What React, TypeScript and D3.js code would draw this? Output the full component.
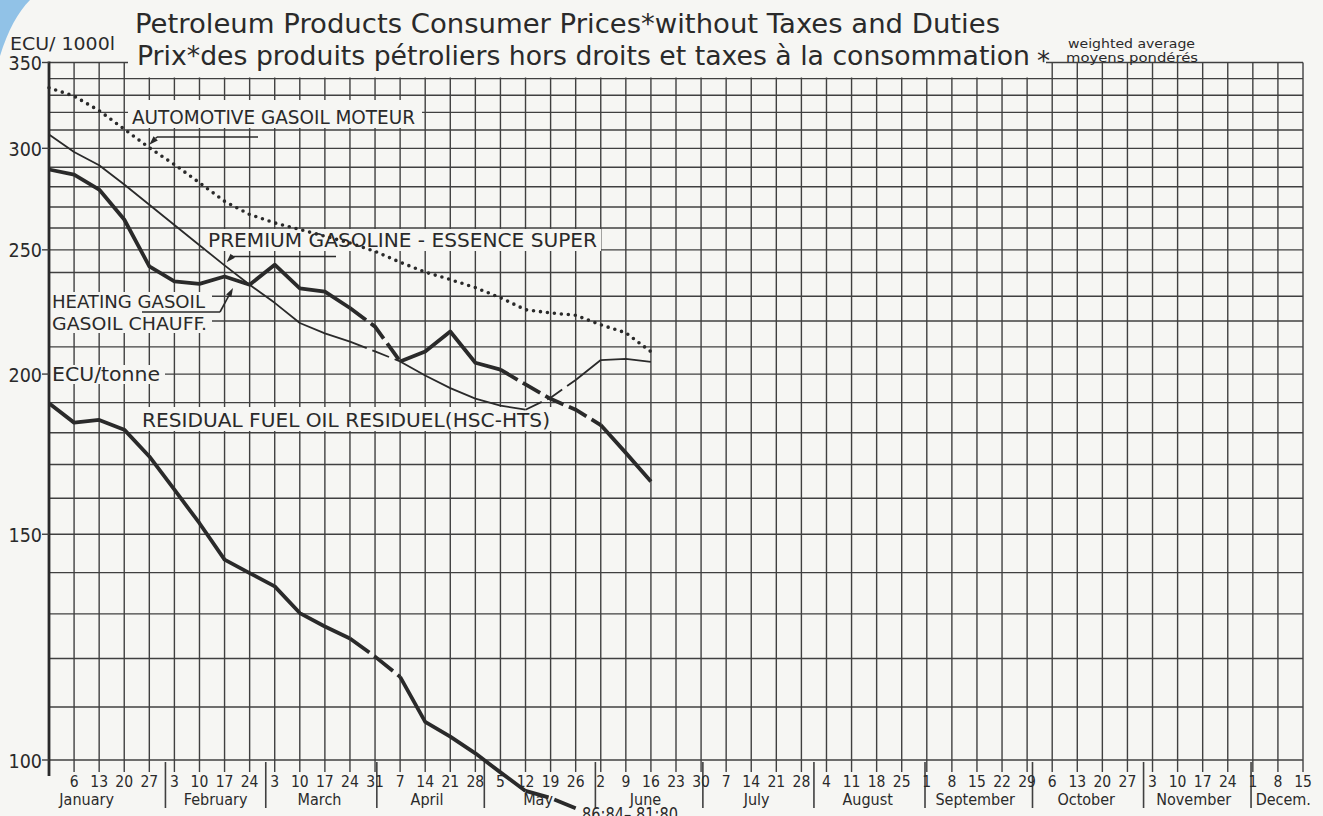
import React from 'react';
import * as d3 from 'd3';

// ---------- data (ECU, weekly from 30 Dec 1985) ----------
const automotiveGasoil = [334.5, 329.5, 321, 310.5, 300.3, 291.4, 282, 272.8, 266.4, 262.4, 259.3, 256.2, 253.1, 249.3, 244.5, 240.2, 237, 233.6, 229.4, 224.5, 223.2, 222.3, 218.5, 215.4, 208.2];
const premiumGasoline = [307.6, 298, 291, 281.1, 271.1, 261.4, 252.1, 243.1, 234.8, 227.3, 219.2, 215.2, 212, 208.3, 204.6, 199.5, 195, 191.4, 189, 187.6, 191.7, 197.9, 205.1, 205.5, 204.4];
const heatingGasoil = [288.8, 286.2, 278.6, 264, 242.7, 236.2, 235.2, 238.3, 234.8, 243.4, 233.3, 231.9, 225.2, 217.8, 204.6, 208.3, 215.9, 204.1, 201.6, 196.3, 191.3, 187.6, 182.5, 173.6, 164.9];
const residualFuelOil = [189.8, 183.3, 184.2, 181, 172.5, 162.5, 153, 143.3, 139.9, 136.6, 130.2, 127.1, 124.4, 120.4, 116.1, 107.1, 104.3, 101.2, 97.8, 94.6, 93.4, 91.7];

// dashed stretches (week index ranges)
const premiumDashed: [number, number][] = [[12, 14], [19, 21]];
const heatingDashed: [number, number][] = [[12, 14], [18, 22]];
const residualDashed: [number, number][] = [[12, 14], [19, 21]];

const weekTickLabels = [6, 13, 20, 27, 3, 10, 17, 24, 3, 10, 17, 24, 31, 7, 14, 21, 28, 5, 12, 19, 26, 2, 9, 16, 23, 30, 7, 14, 21, 28, 4, 11, 18, 25, 1, 8, 15, 22, 29, 6, 13, 20, 27, 3, 10, 17, 24, 1, 8, 15];
const monthNames = ['January', 'February', 'March', 'April', 'May', 'June', 'July', 'August', 'September', 'October', 'November', 'Decem.'];
const monthLabelDates = ['1986-01-10', '1986-02-15', '1986-03-16', '1986-04-15', '1986-05-16', '1986-06-15', '1986-07-16', '1986-08-16', '1986-09-15', '1986-10-16', '1986-11-15', '1986-12-10'];
const monthStartDates = ['1986-02-01', '1986-03-01', '1986-04-01', '1986-05-01', '1986-06-01', '1986-07-01', '1986-08-01', '1986-09-01', '1986-10-01', '1986-11-01', '1986-12-01'];
const yTickLabels = [100, 150, 200, 250, 300, 350];
const yGridValues = d3.range(100, 351, 10);

// ---------- layout ----------
const W = 1323, H = 816;
const PAPER = '#f6f6f3';
const INK = '#2a2a2a';
const GRID = '#404040';
const FONT = "'DejaVu Sans Condensed', 'DejaVu Sans', sans-serif";
const TFONT = "'DejaVu Sans', sans-serif";

const x = d3.scaleLinear().domain([0, 50]).range([49, 1303]);
const y = d3.scaleLog().domain([100, 350]).range([760, 62.5]);
const ORIGIN = Date.UTC(1985, 11, 30, 12);
const weekOf = (s: string) => (Date.parse(s + 'T00:00:00Z') - ORIGIN) / (7 * 864e5);

const line = d3.line<[number, number]>().x(d => x(d[0])).y(d => y(d[1]));

function pieces(vals: number[], dashed: [number, number][]) {
  const out: { pts: [number, number][]; dashed: boolean }[] = [];
  for (let i = 0; i < vals.length - 1; i++) {
    const d = dashed.some(([a, b]) => i >= a && i + 1 <= b);
    const last = out[out.length - 1];
    if (last && last.dashed === d) last.pts.push([i + 1, vals[i + 1]]);
    else out.push({ dashed: d, pts: [[i, vals[i]], [i + 1, vals[i + 1]]] });
  }
  return out;
}

function Series({ vals, dashed, width, dash }: { vals: number[]; dashed: [number, number][]; width: number; dash: string }) {
  return (
    <g>
      {pieces(vals, dashed).map((p, i) => (
        <path key={i} d={line(p.pts) || ''} fill="none" stroke={INK} strokeWidth={width}
          strokeLinejoin="round" strokeLinecap="butt" strokeDasharray={p.dashed ? dash : undefined} />
      ))}
    </g>
  );
}

function Arrow({ from, to }: { from: [number, number]; to: [number, number] }) {
  const dx = to[0] - from[0], dy = to[1] - from[1];
  const len = Math.hypot(dx, dy);
  const ux = dx / len, uy = dy / len;
  const L = 9, hw = 3;
  const bx = to[0] - ux * L, by = to[1] - uy * L;
  const p = `${to[0]},${to[1]} ${bx - uy * hw},${by + ux * hw} ${bx + uy * hw},${by - ux * hw}`;
  return (
    <g>
      <line x1={from[0]} y1={from[1]} x2={bx} y2={by} stroke={INK} strokeWidth={1.6} />
      <polygon points={p} fill={INK} />
    </g>
  );
}

export default function App() {
  const gridTop = y(350);
  return (
    <svg width={W} height={H} style={{ position: 'absolute', left: 0, top: 0, background: PAPER }}>
      <rect x={0} y={0} width={W} height={H} fill={PAPER} />
      <path d="M0,0 H30 C18,12 8,30 0,56 Z" fill="#86bde6" opacity={0.9} />

      {/* horizontal grid */}
      {yGridValues.map(v => (
        <line key={'h' + v} x1={x(0)} x2={x(50)} y1={y(v)} y2={y(v)} stroke={GRID} strokeWidth={1.4} />
      ))}
      {/* vertical grid + bottom ticks */}
      {weekTickLabels.map((_, i) => (
        <line key={'v' + i} x1={x(i + 1)} x2={x(i + 1)} y1={gridTop} y2={772} stroke={GRID} strokeWidth={1.4} />
      ))}
      {/* month separators */}
      {monthStartDates.map(s => (
        <line key={s} x1={x(weekOf(s))} x2={x(weekOf(s))} y1={762} y2={808} stroke={GRID} strokeWidth={1.6} />
      ))}

      {/* paper boxes hiding the grid behind lettering */}
      <rect x={128} y={0} width={918} height={77.5} fill={PAPER} />
      <rect x={128} y={100} width={294} height={28} fill={PAPER} />
      <rect x={204} y={229} width={397} height={22} fill={PAPER} />
      <rect x={50} y={292} width={162} height={41} fill={PAPER} />
      <rect x={50} y={365} width={115} height={19} fill={PAPER} />
      <rect x={138} y={407} width={416} height={24} fill={PAPER} />

      {/* left axis and y ticks */}
      <line x1={x(0)} x2={x(0)} y1={gridTop - 1} y2={776} stroke={INK} strokeWidth={2.8} />
      {yTickLabels.map(v => (
        <g key={'yt' + v}>
          <line x1={42} x2={x(0)} y1={y(v)} y2={y(v)} stroke={GRID} strokeWidth={1.4} />
          <text x={42} y={y(v) + 7.5} textAnchor="end" fontFamily={FONT} fontSize={19.5} fill={INK}>{v}</text>
        </g>
      ))}

      {/* data series */}
      <path d={line(automotiveGasoil.map((v, i) => [i, v] as [number, number])) || ''} fill="none" stroke={INK}
        strokeWidth={3.6} strokeLinecap="round" strokeDasharray="0 7" />
      <Series vals={premiumGasoline} dashed={premiumDashed} width={1.8} dash="18 6" />
      <Series vals={heatingGasoil} dashed={heatingDashed} width={3.8} dash="20 6" />
      <Series vals={residualFuelOil} dashed={residualDashed} width={3.8} dash="24 6" />

      {/* x axis labels */}
      {weekTickLabels.map((d, i) => (
        <text key={'wl' + i} x={x(i + 1)} y={787} textAnchor="middle" fontFamily={FONT} fontSize={15.5} fill={INK}>{d}</text>
      ))}
      {monthNames.map((m, i) => (
        <text key={m} x={x(weekOf(monthLabelDates[i]))} y={805} textAnchor="middle" fontFamily={FONT} fontSize={16} fill={INK}>{m}</text>
      ))}

      {/* titles */}
      <text x={135} y={33} fontFamily={TFONT} fontSize={26} fill={INK} textLength={865} lengthAdjust="spacingAndGlyphs">Petroleum Products Consumer Prices*without Taxes and Duties</text>
      <text x={137} y={65} fontFamily={TFONT} fontSize={26} fill={INK} textLength={893} lengthAdjust="spacingAndGlyphs">Prix*des produits pétroliers hors droits et taxes à la consommation</text>
      <text x={1037} y={70} fontFamily={TFONT} fontSize={26} fill={INK}>*</text>
      <text x={1068} y={47.5} fontFamily={FONT} fontSize={13} fill={INK} textLength={127} lengthAdjust="spacingAndGlyphs">weighted average</text>
      <text x={1066} y={62} fontFamily={FONT} fontSize={13} fill={INK} textLength={132} lengthAdjust="spacingAndGlyphs">moyens pondérés</text>
      <text x={10} y={50} fontFamily={FONT} fontSize={18.5} fill={INK} textLength={105} lengthAdjust="spacingAndGlyphs">ECU/ 1000l</text>
      <text x={52} y={381} fontFamily={FONT} fontSize={19} fill={INK} textLength={108} lengthAdjust="spacingAndGlyphs">ECU/tonne</text>

      {/* series labels */}
      <text x={132} y={124} fontFamily={FONT} fontSize={20} fill={INK} textLength={283} lengthAdjust="spacingAndGlyphs">AUTOMOTIVE GASOIL  MOTEUR</text>
      <text x={208} y={247} fontFamily={FONT} fontSize={20} fill={INK} textLength={389} lengthAdjust="spacingAndGlyphs">PREMIUM GASOLINE - ESSENCE SUPER</text>
      <text x={52} y={308} fontFamily={FONT} fontSize={18} fill={INK} textLength={153} lengthAdjust="spacingAndGlyphs">HEATING GASOIL</text>
      <text x={52} y={330} fontFamily={FONT} fontSize={18} fill={INK} textLength={155} lengthAdjust="spacingAndGlyphs">GASOIL CHAUFF.</text>
      <text x={142} y={427} fontFamily={FONT} fontSize={20} fill={INK} textLength={408} lengthAdjust="spacingAndGlyphs">RESIDUAL  FUEL OIL RESIDUEL(HSC-HTS)</text>
      <text x={582} y={821} fontFamily={FONT} fontSize={20} fill={INK} textLength={96} lengthAdjust="spacingAndGlyphs">86:84– 81:80</text>

      {/* leaders */}
      <line x1={258} x2={157} y1={137} y2={137} stroke={INK} strokeWidth={1.6} />
      <Arrow from={[157, 137]} to={[x(4), y(302)]} />
      <line x1={336} x2={232} y1={256.5} y2={256.5} stroke={INK} strokeWidth={1.6} />
      <Arrow from={[232, 256.5]} to={[x(7) + 2, y(244.5)]} />
      <line x1={142} x2={220} y1={312} y2={312} stroke={INK} strokeWidth={1.6} />
      <Arrow from={[220, 312]} to={[233, 288]} />
    </svg>
  );
}
